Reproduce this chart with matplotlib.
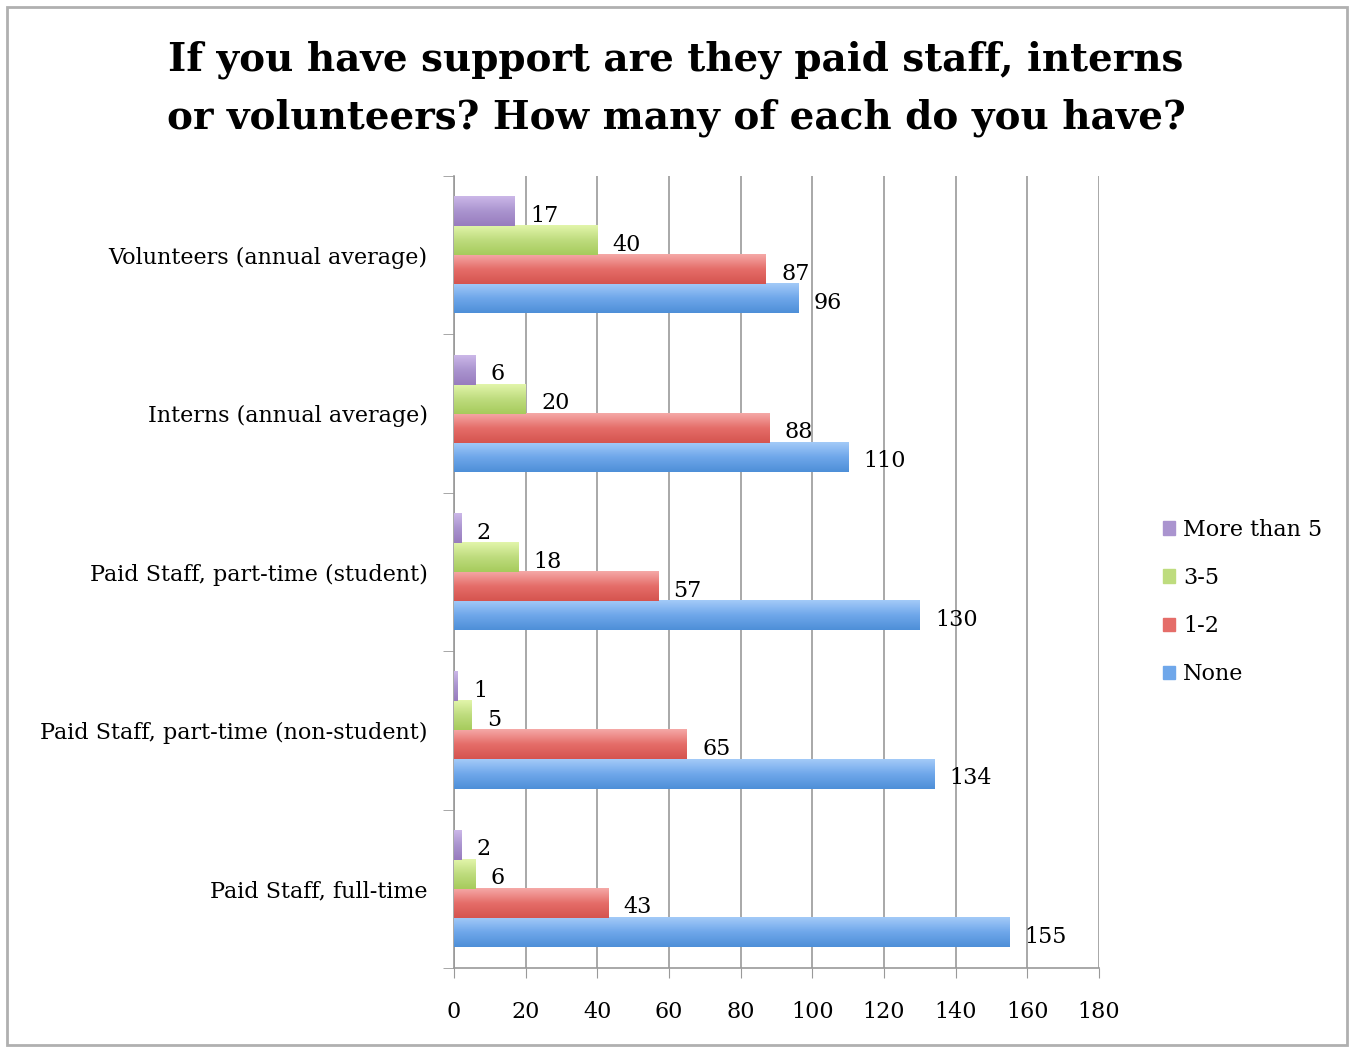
import matplotlib
matplotlib.use("Agg")
import matplotlib.pyplot as plt
import numpy as np
from matplotlib.patches import Rectangle, Patch
from matplotlib.colors import LinearSegmentedColormap

categories = ["Paid Staff, full-time", "Paid Staff, part-time (non-student)",
              "Paid Staff, part-time (student)", "Interns (annual average)",
              "Volunteers (annual average)"]
none_vals = [155, 134, 130, 110, 96]
one_two_vals = [43, 65, 57, 88, 87]
three_five_vals = [6, 5, 18, 20, 40]
more5_vals = [2, 1, 2, 6, 17]
series_names = ["None", "1-2", "3-5", "More than 5"]
xticks = [0, 20, 40, 60, 80, 100, 120, 140, 160, 180]

colors = ["#6FA7EA", "#E56D69", "#BEDC7E", "#AA94CF"]
grad = [("#4E8FD8", "#A3CAF8"), ("#D5544F", "#F5A9A7"),
        ("#A6CB5C", "#E2F5AA"), ("#987CBE", "#CBB7E8")]
FONT = "DejaVu Serif"
plt.rcParams['font.family'] = [FONT]

fig = plt.figure(figsize=(13.5, 10.48), dpi=100)
fig.patches.append(Rectangle((7/1350, 3/1048), 1340/1350, 1038/1048, transform=fig.transFigure,
                             fill=False, edgecolor="#b0b0b0", linewidth=2))
ax = fig.add_axes([454/1350, 1-968/1048, 645/1350, 792/1048])

h = 0.1835
y = np.arange(len(categories))
all_series = [none_vals, one_two_vals, three_five_vals, more5_vals]
offsets = [-1.5, -0.5, 0.5, 1.5]
gvals = np.linspace(0, 1, 64).reshape(-1, 1)
for vals, off, c, g, name in zip(all_series, offsets, colors, grad, series_names):
    bars = ax.barh(y + off*h, vals, height=h, color=c, label=name, zorder=3)
    cmap = LinearSegmentedColormap.from_list("g", [g[0], c, g[1]])
    for b, v in zip(bars, vals):
        ax.imshow(gvals, extent=[b.get_x(), b.get_x() + b.get_width(), b.get_y(), b.get_y() + b.get_height()],
                  origin="lower", aspect="auto", cmap=cmap, zorder=3.5, interpolation="bilinear")
        ax.annotate(str(v), (v, b.get_y() + b.get_height()/2), xytext=(11, -3),
                    textcoords="offset points", va="center", ha="left",
                    fontsize=16, zorder=4)

ax.set_xlim(0, 180)
ax.set_ylim(-0.5, 4.5)
ax.set_aspect("auto")
ax.set_xticks(xticks)
ax.set_xticklabels([str(t) for t in xticks], fontsize=16)
ax.set_yticks(y)
ax.set_yticklabels(categories, fontsize=16)
ax.tick_params(axis='y', length=0, pad=19)
ax.tick_params(axis='x', length=7, color="#999999", pad=17, direction='out')
ax.set_yticks(np.arange(-0.5, 5, 1), minor=True)
ax.tick_params(axis='y', which='minor', length=8, color="#999999")
ax.grid(axis='x', color="#999999", linewidth=1.2, zorder=0)
for s in ["top", "right"]:
    ax.spines[s].set_visible(False)
ax.spines["left"].set_color("#999999")
ax.spines["bottom"].set_color("#999999")
ax.spines["left"].set_linewidth(1.2)
ax.spines["bottom"].set_linewidth(1.2)

fig.text(676/1350, 1-60/1048, "If you have support are they paid staff, interns",
         ha="center", va="center", fontsize=28, fontweight="bold")
fig.text(676/1350, 1-118/1048, "or volunteers? How many of each do you have?",
         ha="center", va="center", fontsize=28, fontweight="bold")

handles = [Patch(color=colors[i], label=series_names[i]) for i in [3, 2, 1, 0]]
leg = fig.legend(handles=handles, loc="center left", bbox_to_anchor=(1143/1350, 1-602/1048),
                 frameon=False, fontsize=16, handlelength=0.55, handleheight=0.55,
                 handletextpad=0.35, labelspacing=1.18)

fig.savefig("out.png", dpi=100)
